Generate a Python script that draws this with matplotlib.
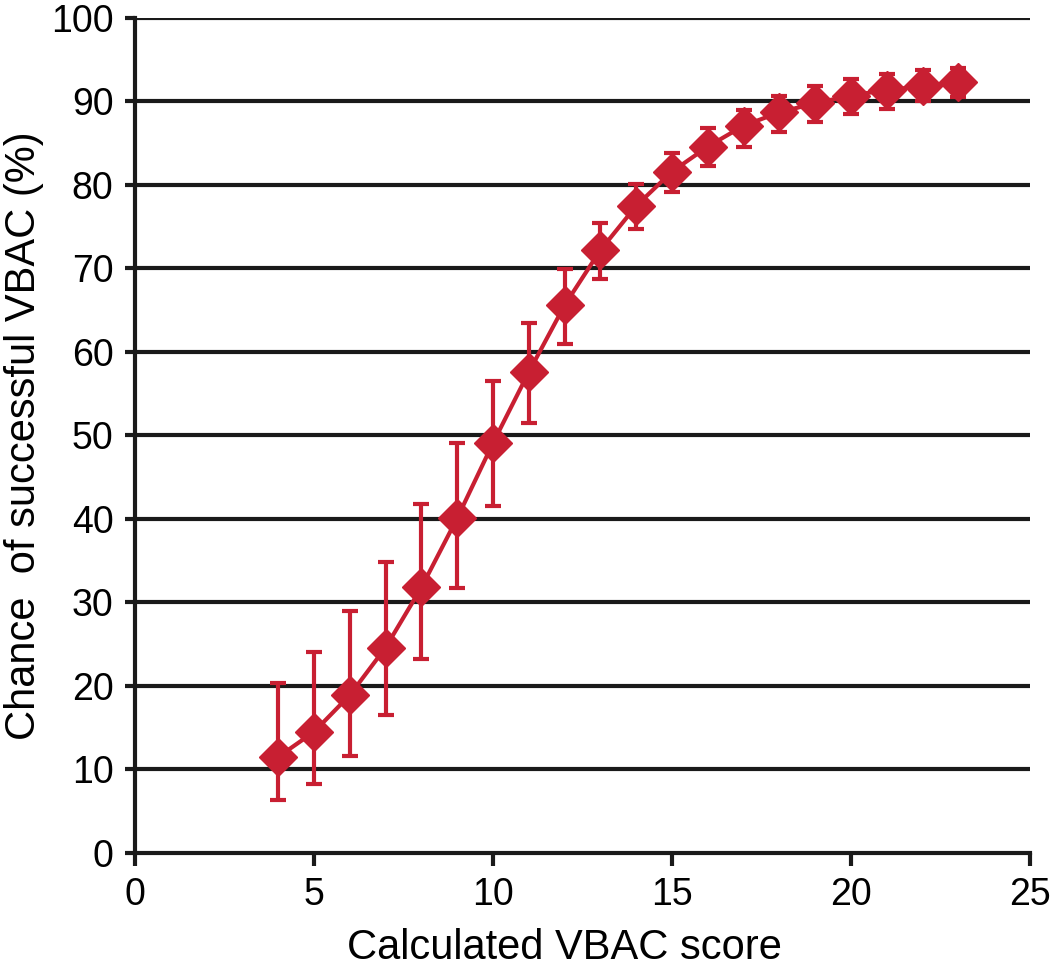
import matplotlib.pyplot as plt
import numpy as np

plt.rcParams['font.family'] = ['Liberation Sans', 'DejaVu Sans']

# VBAC score vs predicted chance of success, with confidence limits
score = [4, 5, 6, 7, 8, 9, 10, 11, 12, 13, 14, 15, 16, 17, 18, 19, 20, 21, 22, 23]
chance = [11.5, 14.5, 18.9, 24.6, 31.8, 40.1, 49.1, 57.6, 65.6, 72.2,
          77.5, 81.6, 84.6, 87.1, 88.7, 89.8, 90.7, 91.4, 91.8, 92.3]
upper = [20.4, 24.1, 29.0, 34.9, 41.8, 49.1, 56.5, 63.5, 69.9, 75.4,
         80.1, 83.8, 86.8, 89.0, 90.7, 91.9, 92.7, 93.3, 93.8, 94.0]
lower = [6.3, 8.3, 11.6, 16.5, 23.2, 31.7, 41.5, 51.5, 61.0, 68.7,
         74.7, 79.1, 82.3, 84.6, 86.3, 87.6, 88.5, 89.1, 90.0, 90.5]

yerr = [np.array(chance) - np.array(lower), np.array(upper) - np.array(chance)]
red = '#C81F32'
ink = '#1a1a1a'

fig = plt.figure(figsize=(10.5, 9.67), dpi=100)
ax = fig.add_axes([0.1286, 0.118, 0.8524, 0.8634])

for y in range(10, 101, 10):
    ax.axhline(y, color=ink, lw=3, zorder=1)

ax.errorbar(score, chance, yerr=yerr, color=red, marker='D', markersize=19,
            lw=3, elinewidth=3, capsize=6, capthick=3, zorder=3)

ax.set_xlim(0, 25)
ax.set_ylim(0, 100)
ax.set_xticks(range(0, 26, 5))
ax.set_yticks(range(0, 101, 10))
for s in ['top', 'right']:
    ax.spines[s].set_visible(False)
for s in ['left', 'bottom']:
    ax.spines[s].set_linewidth(3)
    ax.spines[s].set_color(ink)
ax.tick_params(axis='both', labelsize=27, width=3, color=ink)
ax.tick_params(axis='y', length=7.5, pad=8)
ax.tick_params(axis='x', length=9.5, pad=8)

ax.set_xlabel('Calculated VBAC score', fontsize=30)
ax.set_ylabel('Chance  of successful VBAC (%)', fontsize=30, labelpad=5)
ax.xaxis.set_label_coords(0.48, -0.09)

fig.savefig('out.png', dpi=100)
